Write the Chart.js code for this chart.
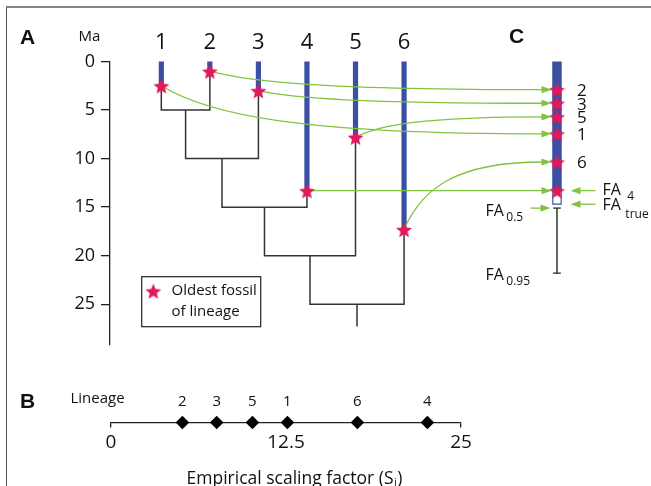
<!DOCTYPE html>
<html><head><meta charset="utf-8">
<script src="https://cdn.jsdelivr.net/npm/chart.js@4.4.1/dist/chart.umd.min.js"></script>
<style>
html,body{margin:0;padding:0;background:#fff;width:651px;height:486px;overflow:hidden}
#frame{position:absolute;left:6px;top:6px;width:660px;height:500px;border-top:2px solid #858585;border-left:1.5px solid #555;box-sizing:border-box}
#cTop{position:absolute;left:0;top:0}
#cBot{position:absolute;left:0;top:370px}
</style></head><body>
<div id="frame"></div>
<canvas id="cTop" width="651" height="370"></canvas>
<canvas id="cBot" width="651" height="116"></canvas>
<script>
// ---------- data ----------
const lineages = [1, 2, 3, 4, 5, 6];
const oldestFossilMa = [2.5, 1.0, 3.0, 13.3, 7.8, 17.3];
const cladeAgesMa = [5, 10, 15, 20, 25];          // nodes of ((((1,2),3),4),5),6
const rootStemMa = 27.3;
const yTicksMa = [0, 5, 10, 15, 20, 25];
const panelCLineage = [2, 3, 5, 1, 6, 4];
const panelCMa = [2.9, 4.3, 5.7, 7.45, 10.35, 13.3];
const faTrueMa = 14.75;
const fa50Ma = 15.1;
const fa95Ma = 21.8;
const scalingLineage = [2, 3, 5, 1, 6, 4];
const scalingFactor = [5.1, 7.55, 10.1, 12.6, 17.6, 22.6];
const scalingTicks = [0, 12.5, 25];

// ---------- style ----------
const FONT = "'Open Sans', 'Liberation Sans', sans-serif";
const BLUE = '#3a50a2', PINK = '#e0185c', GREEN = '#80c341', TREE = '#333', DARK = '#111';
const X_MIN = -0.057, X_MAX = 10.86, C_X = 9.15;
Chart.defaults.font.family = FONT;

function makeStar(r, color) {
  const s = Math.ceil(r * 2 + 2), c = document.createElement('canvas');
  c.width = c.height = s;
  const g = c.getContext('2d');
  g.fillStyle = color; g.beginPath();
  for (let k = 0; k < 10; k++) {
    const rr = k % 2 ? r * 0.45 : r, a = -Math.PI / 2 + k * Math.PI / 5;
    g.lineTo(s / 2 + rr * Math.cos(a), s / 2 + 1 + rr * Math.sin(a));
  }
  g.closePath(); g.fill();
  return c;
}
const STAR = makeStar(8.3, PINK);

function lineDs(points, color, width, order, extra) {
  return Object.assign({ type: 'scatter', data: points, showLine: true, borderColor: color,
    borderWidth: width, pointRadius: 0, tension: 0, borderCapStyle: 'butt', order: order, clip: false }, extra || {});
}

// tree
const treeSegments = [];
let prev = { x: lineages[0], top: oldestFossilMa[0] };
cladeAgesMa.forEach((age, k) => {
  const right = { x: lineages[k + 1], top: oldestFossilMa[k + 1] };
  treeSegments.push([{ x: prev.x, y: prev.top }, { x: prev.x, y: age }, { x: right.x, y: age }, { x: right.x, y: right.top }]);
  prev = { x: (prev.x + right.x) / 2, top: age };
});
treeSegments.push([{ x: prev.x, y: prev.top }, { x: prev.x, y: rootStemMa }]);

const datasets = [
  { type: 'scatter', label: 'starsA', data: lineages.map((l, i) => ({ x: l, y: oldestFossilMa[i] })),
    pointStyle: STAR, pointRadius: 9, order: 1, clip: false },
  { type: 'scatter', label: 'starsC', data: panelCMa.map(v => ({ x: C_X, y: v })),
    pointStyle: STAR, pointRadius: 9, order: 0, clip: false },
  { type: 'scatter', label: 'caps', data: [{ x: C_X, y: fa50Ma }, { x: C_X, y: fa95Ma }],
    pointStyle: 'line', pointRadius: 3.8, borderColor: '#3c4632', borderWidth: 1.5, order: 2, clip: false },
  lineDs([{ x: C_X, y: fa50Ma }, { x: C_X, y: fa95Ma }], '#3c4632', 1.6, 3),
  lineDs([{ x: C_X, y: panelCMa[panelCMa.length - 1] }, { x: C_X, y: faTrueMa - 0.12 }], '#fff', 7.2, 4),
  lineDs([{ x: C_X, y: 0 }, { x: C_X, y: faTrueMa }], BLUE, 9.5, 5),
];
lineages.forEach((l, i) => datasets.push(lineDs([{ x: l, y: 0 }, { x: l, y: oldestFossilMa[i] }], BLUE, 5.2, 6)));
treeSegments.forEach(seg => datasets.push(lineDs(seg, TREE, 1.5, 10)));

function setFont(ctx, size, bold) {
  ctx.font = (bold ? 'bold ' : '') + size + 'px ' + (bold ? "'Liberation Sans', Arial, sans-serif" : FONT);
}
function txt(ctx, s, x, y, size, align, bold) {
  setFont(ctx, size, bold);
  ctx.textAlign = align || 'center'; ctx.textBaseline = 'middle'; ctx.fillStyle = DARK;
  ctx.fillText(s, x, y);
  return ctx.measureText(s).width;
}
function faLabel(ctx, sub, x, y, gap, subDy) {
  const w = txt(ctx, 'FA', x, y, 16, 'left');
  txt(ctx, sub, x + w + gap, y + subDy, 12, 'left');
}
function arrowLine(ctx, pts, color) {
  const hl = 10, hw = 3.6;
  const last = pts[pts.length - 1], before = pts[pts.length - 2];
  const ang = Math.atan2(last.y - before.y, last.x - before.x);
  const endX = last.x - Math.cos(ang) * (hl - 1), endY = last.y - Math.sin(ang) * (hl - 1);
  ctx.strokeStyle = color; ctx.lineWidth = 1.3; ctx.beginPath();
  ctx.moveTo(pts[0].x, pts[0].y);
  if (pts.length === 4) ctx.bezierCurveTo(pts[1].x, pts[1].y, pts[2].x, pts[2].y, endX, endY);
  else ctx.lineTo(endX, endY);
  ctx.stroke();
  ctx.fillStyle = color; ctx.beginPath();
  ctx.moveTo(last.x, last.y);
  ctx.lineTo(last.x - Math.cos(ang) * hl - Math.sin(ang) * hw, last.y - Math.sin(ang) * hl + Math.cos(ang) * hw);
  ctx.lineTo(last.x - Math.cos(ang) * hl + Math.sin(ang) * hw, last.y - Math.sin(ang) * hl - Math.cos(ang) * hw);
  ctx.closePath(); ctx.fill();
}

const topPlugin = {
  id: 'topDecor',
  beforeDatasetDraw(chart, args) {
    if (args.index !== 0) return;
    const ctx = chart.ctx, xs = chart.scales.x, ys = chart.scales.y;
    ctx.save();
    const cx = xs.getPixelForValue(C_X) - 5.5;
    lineages.forEach((l, i) => {
      const j = panelCLineage.indexOf(l);
      const x0 = xs.getPixelForValue(l), y0 = ys.getPixelForValue(oldestFossilMa[i]);
      const y1 = ys.getPixelForValue(panelCMa[j]);
      const dx = cx - x0, dy = y1 - y0;
      const p = [{ x: x0, y: y0 }, { x: x0 + 0.12 * dx, y: y0 + 0.6 * dy }, { x: x0 + 0.35 * dx, y: y1 }, { x: cx, y: y1 }];
      arrowLine(ctx, p, GREEN);
    });
    ctx.restore();
  },
  afterDatasetsDraw(chart) {
    const ctx = chart.ctx, xs = chart.scales.x, ys = chart.scales.y;
    ctx.save();
    const cpx = xs.getPixelForValue(C_X);
    txt(ctx, 'A', 27.5, 38, 21, 'center', true);
    txt(ctx, 'Ma', 89.5, 37, 15, 'center');
    lineages.forEach(l => txt(ctx, String(l), xs.getPixelForValue(l), 43, 22, 'center'));
    txt(ctx, 'C', cpx - 40.5, 37.5, 21, 'center', true);
    panelCLineage.forEach((l, j) => {
      if (l === 4) return;
      txt(ctx, String(l), cpx + 20, ys.getPixelForValue(panelCMa[j]) + 1.5, 17, 'left');
    });
    const y4 = ys.getPixelForValue(panelCMa[panelCMa.length - 1]);
    const yT = ys.getPixelForValue(faTrueMa) - 0.5;
    const y50 = ys.getPixelForValue(fa50Ma);
    const y95 = ys.getPixelForValue(fa95Ma);
    arrowLine(ctx, [{ x: cpx + 38.5, y: y4 }, { x: cpx + 13.5, y: y4 }], GREEN);
    arrowLine(ctx, [{ x: cpx + 38.5, y: yT }, { x: cpx + 13.5, y: yT }], GREEN);
    arrowLine(ctx, [{ x: cpx - 26.5, y: y50 }, { x: cpx - 6.5, y: y50 }], GREEN);
    faLabel(ctx, '4', cpx + 45.5, y4 - 0.5, 6.5, 6.5);
    faLabel(ctx, 'true', cpx + 45.5, yT + 1, 4.5, 9);
    faLabel(ctx, '0.5', cpx - 71.5, y50 + 3.5, 2.5, 5.5);
    faLabel(ctx, '0.95', cpx - 71.5, y95 + 2, 2.5, 6.5);
    ctx.strokeStyle = '#222'; ctx.lineWidth = 1.2;
    ctx.strokeRect(141.7, 276.7, 119, 50);
    ctx.drawImage(STAR, 153.3 - STAR.width / 2, 291 - STAR.height / 2);
    txt(ctx, 'Oldest fossil', 171.5, 290.5, 15, 'left');
    txt(ctx, 'of lineage', 171.5, 311.5, 15, 'left');
    ctx.restore();
  }
};

new Chart(document.getElementById('cTop'), {
  type: 'scatter',
  data: { datasets: datasets },
  options: {
    responsive: false, animation: false, events: [],
    layout: { padding: { top: 61.5, right: 11, bottom: 25, left: 0 } },
    plugins: { legend: { display: false }, tooltip: { enabled: false } },
    scales: {
      x: { type: 'linear', display: false, min: X_MIN, max: X_MAX },
      y: { type: 'linear', reverse: true, min: 0, max: 29.2,
        afterFit(s) { s.width = 110; },
        afterBuildTicks(s) { s.ticks = yTicksMa.map(v => ({ value: v })); },
        grid: { drawOnChartArea: false, tickLength: 9, color: '#222', lineWidth: 1.3 },
        border: { color: '#222', width: 1.3 },
        ticks: { color: DARK, font: { family: FONT, size: 18 }, padding: 6 } }
    }
  },
  plugins: [topPlugin]
});

// ---------- panel B ----------
const botPlugin = {
  id: 'botDecor',
  afterDatasetsDraw(chart) {
    const ctx = chart.ctx;
    ctx.save();
    txt(ctx, 'B', 27.5, 32, 21, 'center', true);
    txt(ctx, 'Lineage', 70.5, 28.5, 15, 'left');
    const meta = chart.getDatasetMeta(0);
    meta.data.forEach((pt, i) => txt(ctx, String(scalingLineage[i]), pt.x, pt.y - 21, 15, 'center'));
    const main = 'Empirical scaling factor (S';
    setFont(ctx, 17.5); const w1 = ctx.measureText(main).width;
    setFont(ctx, 11); const w2 = ctx.measureText('i').width;
    setFont(ctx, 17.5); const w3 = ctx.measureText(')').width;
    const start = 294.5 - (w1 + w2 + w3 + 1) / 2;
    txt(ctx, main, start, 109.5, 17.5, 'left');
    txt(ctx, 'i', start + w1 + 0.5, 113, 11, 'left');
    txt(ctx, ')', start + w1 + w2 + 1, 109.5, 17.5, 'left');
    ctx.restore();
  }
};

new Chart(document.getElementById('cBot'), {
  type: 'scatter',
  data: { datasets: [{ data: scalingFactor.map(v => ({ x: v, y: 0 })), pointStyle: 'rectRot',
    pointRadius: 6.8, backgroundColor: '#000', borderWidth: 0, clip: false }] },
  options: {
    responsive: false, animation: false, events: [],
    layout: { padding: { top: 10, right: 190, bottom: 0, left: 111 } },
    plugins: { legend: { display: false }, tooltip: { enabled: false } },
    scales: {
      x: { type: 'linear', min: 0, max: 25,
        afterFit(s) { s.height = 63.5; },
        afterBuildTicks(s) { s.ticks = scalingTicks.map(v => ({ value: v })); },
        grid: { drawOnChartArea: false, tickLength: 5, lineWidth: 1.3,
          color: c => (c.tick && c.tick.value === 12.5) ? 'rgba(0,0,0,0)' : '#222' },
        border: { color: '#222', width: 1.3 },
        ticks: { color: DARK, font: { family: FONT, size: 19 }, padding: 4, maxRotation: 0,
          callback: v => String(v) } },
      y: { display: false, min: 0, max: 1 }
    }
  },
  plugins: [botPlugin]
});
</script>
</body></html>
